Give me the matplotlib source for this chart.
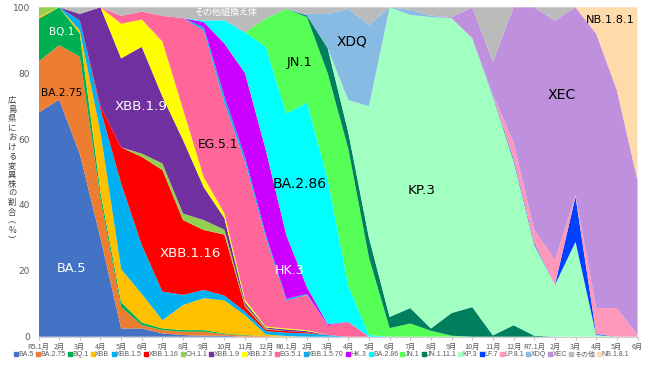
import matplotlib
matplotlib.use("Agg")
import matplotlib.pyplot as plt
from matplotlib.lines import Line2D

plt.rcParams['font.family'] = ['DejaVu Sans', 'Noto Sans CJK JP']
JP = ['Noto Sans CJK JP', 'DejaVu Sans']
LEG = ['Liberation Sans', 'Noto Sans CJK JP']

months = ["R5.1月", "2月", "3月", "4月", "5月", "6月", "7月", "8月", "9月", "10月", "11月", "12月",
          "R6.1月", "2月", "3月", "4月", "5月", "6月", "7月", "8月", "9月", "10月", "11月", "12月",
          "R7.1月", "2月", "3月", "4月", "5月", "6月"]

names = ["BA.5", "BA.2.75", "BQ.1", "XBB", "XBB.1.5", "XBB.1.16", "CH.1.1", "XBB.1.9", "XBB.2.3",
         "EG.5.1", "XBB.1.5.70", "HK.3", "BA.2.86", "JN.1", "JN.1.11.1", "KP.3", "LF.7", "LP.8.1",
         "XDQ", "XEC", "その他", "NB.1.8.1"]

BA_5 = [68, 72, 55.5, 30, 2.5, 2.5, 1, 0.5, 0.3, 0.3] + [0] * 20
BA_2_75 = [15.5, 16.5, 29.5, 12, 6.5, 1, 1, 1, 1.2, 0.5, 0.3, 0.2] + [0] * 18
BQ_1 = [13, 11.5, 7, 2, 1.5, 0.8, 0.5, 0.5, 0.5, 0.2, 0.2] + [0] * 19
XBB = [0.7, 0, 1, 18, 10, 8.7, 2.5, 7.6, 9.7, 10, 6, 0.5, 0.2] + [0] * 17
XBB_1_5 = [0, 0, 3, 7, 26, 14.8, 8.7, 3.1, 2.5, 1.5, 1.1, 1, 1, 1, 0.5] + [0] * 15
XBB_1_16 = [0, 0, 0, 1, 11, 26.8, 36.9, 22.7, 18.2, 18.5, 1.5, 0.5, 0.5, 0.3] + [0] * 16
CH_1_1 = [2.8, 0, 0, 0, 0, 1, 2, 2, 3, 1.5, 0.5, 0.3] + [0] * 18
XBB_1_9 = [0, 0, 2, 30, 27, 32.4, 20.3, 22.3, 10, 3.5, 0.8, 0.3, 0.5, 0.4] + [0] * 16
XBB_2_3 = [0, 0, 0, 0, 10.5, 8.3, 16.7, 9.3, 3, 1.5, 0.8, 0.3, 0.3, 0.3] + [0] * 16
EG_5_1 = [0, 0, 0, 0, 2.4, 2.4, 7.8, 27.7, 44.6, 33.5, 41.8, 27, 8.5, 10.7, 3, 4.5] + [0] * 14
XBB_1_5_70 = [0, 0, 0, 0, 0, 0, 0, 0, 1, 2, 1.5, 1, 0.5, 0.3] + [0] * 16
HK_3 = [0, 0, 0, 0, 0, 0, 0, 0, 1.5, 16, 25.5, 25.7, 19.3, 2, 0.3] + [0] * 15
BA_2_86 = [0] * 8 + [0.5, 7, 12.4, 31.3, 37, 56, 44.2, 11, 0.5] + [0] * 13
JN_1 = [0] * 11 + [8.5, 31.7, 26, 32, 41.5, 23.5, 2.6, 4, 1.8, 0.3] + [0] * 9
JN_1_11_1 = [0] * 13 + [0.5, 7.6, 5, 6, 3.4, 4.7, 0.7, 6.9, 9, 0.4, 3.5, 0.3] + [0] * 5
KP_3 = [0] * 15 + [9.8, 40, 94, 89, 94.5, 89.5, 81.6, 72.5, 49.9, 27.7, 15.7, 28.8, 0.5, 0, 0]
LF_7 = [0] * 22 + [0.3, 0.6, 0.5, 0, 13.7, 0.3, 0, 0]
LP_8_1 = [0] * 22 + [0.3, 5, 4, 7.6, 0.5, 7.9, 8.7, 0.5]
XDQ = [0] * 13 + [0.5, 10.4, 27.7, 24.7, 0, 1.5, 0.5] + [0] * 10
XEC = [0] * 20 + [0.3, 9.4, 10, 41, 67.5, 72.7, 57, 83.3, 66.2, 47]
OTHER = [0, 0, 2, 0, 2.6, 1.3, 2.6, 3.3, 4, 4, 7.6, 3.4, 0.5, 2, 2, 0.5, 5.3, 0, 0.8, 2.5,
         3, 0, 16.5, 0, 0, 4, 0, 0, 0, 0]
NB_1_8_1 = [0] * 27 + [8, 25.1, 52.5]

series = [BA_5, BA_2_75, BQ_1, XBB, XBB_1_5, XBB_1_16, CH_1_1, XBB_1_9, XBB_2_3, EG_5_1,
          XBB_1_5_70, HK_3, BA_2_86, JN_1, JN_1_11_1, KP_3, LF_7, LP_8_1, XDQ, XEC, OTHER, NB_1_8_1]

colors = ["#4472C4", "#ED7D31", "#00B050", "#FFC000", "#00B0F0", "#FF0000", "#92D050", "#7030A0",
          "#FFFF00", "#FF6699", "#11ACE8", "#CC00FF", "#00FFFF", "#55FF55", "#007F5F", "#A2FFC2",
          "#0040FF", "#FF99BB", "#88BBE4", "#BE90DE", "#BBBBBB", "#FFDAAA"]

fig = plt.figure(figsize=(6.5, 3.65), dpi=100)
ax = fig.add_axes([38.5 / 650, 1 - 336.7 / 365, (637.5 - 38.5) / 650, (336.7 - 7.3) / 365])

x = list(range(len(months)))
ax.stackplot(x, series, colors=colors, labels=names, linewidth=0)

ax.set_xlim(0, len(months) - 1)
ax.set_ylim(0, 100)
ax.set_yticks([0, 20, 40, 60, 80, 100])
ax.tick_params(axis='y', length=0, labelsize=6.5, labelcolor='#595959', pad=6)
ax.set_xticks(x)
ax.set_xticklabels(months, family=JP)
ax.tick_params(axis='x', length=2.5, color='#BFBFBF', labelsize=5.2, labelcolor='#595959', pad=2)
for s in ['top', 'right', 'left']:
    ax.spines[s].set_visible(False)
ax.spines['bottom'].set_color('#D0D0D0')

def lab(txt, mx, py, c, fs):
    ax.text(mx, py, txt, color=c, fontsize=fs, ha='center', va='center')

lab("BA.5", 1.6, 20.6, 'white', 9.3)
lab("BA.2.75", 1.14, 74.1, 'black', 7.7)
lab("BQ.1", 1.1, 92.5, 'white', 7.5)
lab("XBB.1.9", 4.97, 69.8, 'white', 9.6)
lab("EG.5.1", 8.67, 58.2, 'black', 8.8)
lab("XBB.1.16", 7.36, 25.4, 'white', 9.6)
lab("HK.3", 12.15, 20.2, 'white', 9.1)
lab("BA.2.86", 12.66, 46.4, 'black', 10)
lab("JN.1", 12.64, 83.1, 'black', 9.4)
lab("XDQ", 15.16, 89.6, 'black', 9.9)
lab("KP.3", 18.57, 44.5, 'black', 9.7)
lab("XEC", 25.33, 73.4, 'black', 10.2)
lab("NB.1.8.1", 27.7, 96.1, 'black', 8.2)
ax.text(9.06, 98.5, "その他組換え体", color='white', fontsize=6.5, ha='center', va='center',
        family=JP)

ylab = "広島県における変異株の割合︵%︶"
fig.text(12 / 650, 1 - 170 / 365, "\n".join(ylab), ha='center', va='center', fontsize=6,
         color='#404040', linespacing=1.05, family=JP, rotation=0)

handles = [Line2D([0], [0], marker='s', linestyle='none', markersize=2.2,
                  markerfacecolor=c, markeredgecolor=c) for c in colors]
fig.legend(handles, names, loc='center', bbox_to_anchor=(322 / 650, 1 - 355 / 365),
           ncol=len(names), frameon=False, handlelength=0.35, handletextpad=0.2,
           columnspacing=0.42, borderpad=0, borderaxespad=0, labelcolor='#595959',
           prop={'family': LEG, 'size': 5})

fig.savefig("out.png", dpi=100)
